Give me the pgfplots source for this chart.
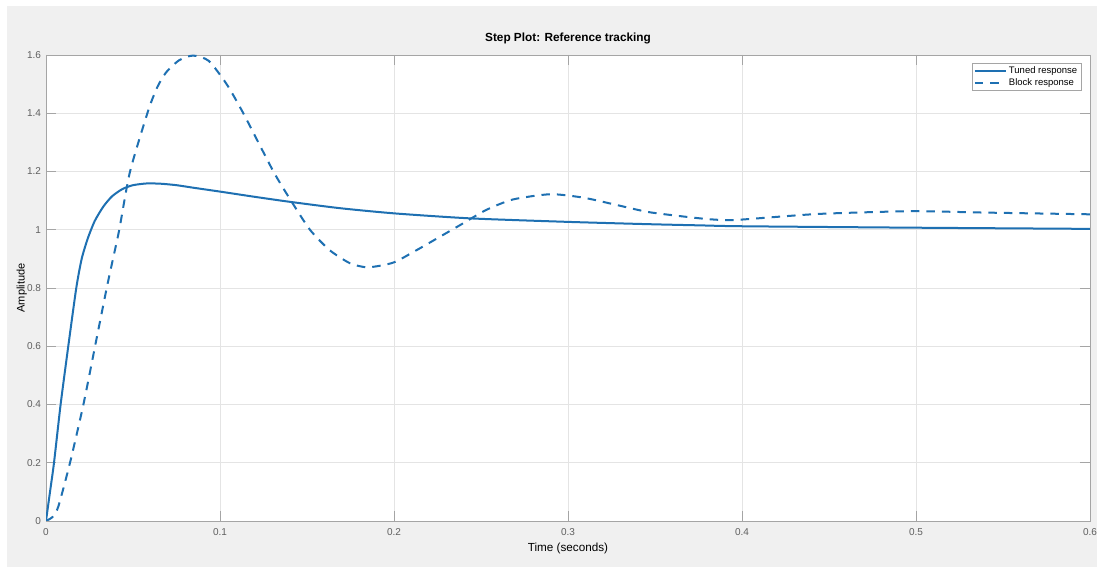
\documentclass[border=0pt]{standalone}
\usepackage{pgfplots}
\pgfplotsset{compat=1.18}
\usepackage{fontspec}
\setmainfont{Liberation Sans}
\definecolor{mblue}{RGB}{30,112,178}
\definecolor{bg}{RGB}{240,240,240}
\definecolor{tickc}{RGB}{95,95,95}
\definecolor{gridc}{RGB}{228,228,228}
\definecolor{axc}{RGB}{165,165,165}
\pgfplotstableread{
t y
0 0
0.0023 0.1
0.0046 0.2
0.0084 0.4
0.0128 0.6
0.0174 0.8
0.0205 0.9
0.024 0.97
0.028 1.03
0.033 1.08
0.038 1.115
0.044 1.14
0.05 1.153
0.058 1.159
0.066 1.158
0.075 1.153
0.085 1.144
0.1 1.131
0.12 1.113
0.14 1.096
0.169 1.074
0.2006 1.056
0.244 1.039
0.3 1.027
0.347 1.019
0.376 1.015
0.4 1.012
0.5 1.007
0.6 1.003
}\tuned
\pgfplotstableread{
t y
0 0
0.004 0.015
0.0071 0.05
0.0138 0.2
0.0215 0.4
0.0282 0.6
0.0349 0.8
0.0385 0.9
0.0421 1.0
0.0483 1.2
0.0588 1.41
0.064 1.49
0.069 1.54
0.0765 1.582
0.0845 1.598
0.0935 1.58
0.1038 1.5
0.1134 1.4
0.1307 1.2
0.1412 1.096
0.1517 1.0
0.163 0.93
0.1747 0.885
0.185 0.871
0.1995 0.887
0.213 0.930
0.2264 0.976
0.238 1.016
0.253 1.068
0.2684 1.104
0.29 1.122
0.309 1.110
0.328 1.085
0.347 1.060
0.376 1.039
0.39 1.033
0.4 1.035
0.443 1.054
0.49 1.063
0.51 1.063
0.539 1.059
0.6 1.053
}\block
\begin{document}
\begin{tikzpicture}[x=1pt,y=1pt]
\useasboundingbox (0,0) rectangle (1097,567);
\fill[white] (0,0) rectangle (1097,567);
\fill[bg] (7,0) rectangle (1097,561);
\begin{axis}[at={(46pt,46pt)}, anchor=south west, scale only axis,
  width=1044pt, height=466pt,
  xmin=0, xmax=0.6, ymin=0, ymax=1.6,
  xtick={0,0.1,0.2,0.3,0.4,0.5,0.6},
  ytick={0,0.2,0.4,0.6,0.8,1,1.2,1.4,1.6},
  /pgf/number format/assume math mode=true,
  ticklabel style={font=\fontsize{10}{12}\selectfont, text=tickc},
  xticklabel style={yshift=-4pt},
  yticklabel style={xshift=-1.5pt},
  tick align=inside, major tick length=10pt,
  tick style={axc, line width=0.6pt},
  axis line style={axc, line width=0.8pt},
  grid=major, grid style={gridc, line width=0.6pt},
  axis background/.style={fill=white},
  title={\bfseries Step Plot: Reference tracking},
  title style={font=\fontsize{11.8}{13}\selectfont, at={(axis description cs:0.5,1)}, anchor=base, yshift=7.5pt, inner sep=0pt},
  xlabel={Time (seconds)},
  xlabel style={font=\fontsize{11.7}{13}\selectfont, at={(axis description cs:0.5,0)}, anchor=north, yshift=-22pt, inner sep=0pt},
  ylabel={Amplitude},
  ylabel style={font=\fontsize{11}{13}\selectfont, at={(axis description cs:-0.0182,0.5)}, anchor=south, inner sep=0pt},
  legend style={at={(axis description cs:1,1)}, anchor=north east, xshift=-9pt, yshift=-8pt,
    font=\fontsize{9.5}{11}\selectfont, draw=axc, fill=white, inner sep=1.5pt, row sep=-0.5pt},
  legend cell align=left,
  legend image code/.code={\draw[#1] (0pt,0pt) -- (31pt,0pt);},
]
\addplot[mblue, line width=2pt, smooth, tension=0.4] table[x=t,y=y] {\tuned};
\addlegendentry{Tuned response}
\addplot[mblue, line width=2pt, smooth, tension=0.4, dash pattern=on 8.5pt off 7pt] table[x=t,y=y] {\block};
\addlegendentry{Block response}
\end{axis}
\end{tikzpicture}
\end{document}
